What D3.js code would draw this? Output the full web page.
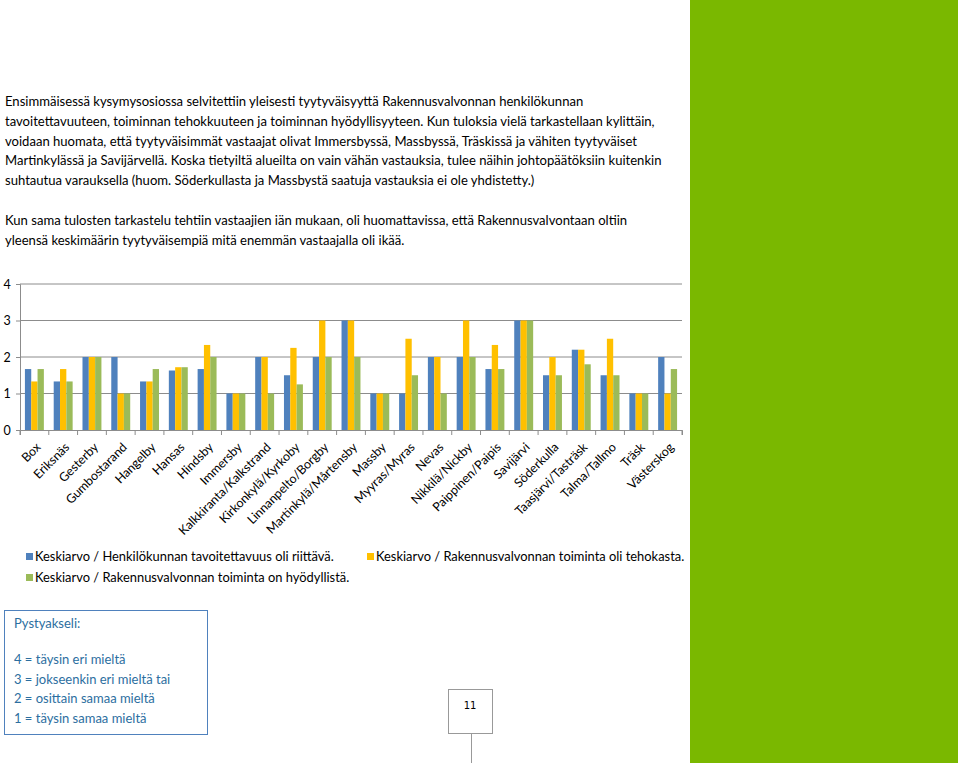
<!DOCTYPE html>
<html>
<head>
<meta charset="utf-8">
<script src="https://cdn.jsdelivr.net/npm/d3@7/dist/d3.min.js"></script>
<style>
	body { margin: 0; background: #fff; }
	svg text { font-family: Lato, "DejaVu Sans Condensed", sans-serif; }
</style>
</head>
<body>
<div id="page"></div>
<script>
// data
const categories = ['Box', 'Eriksnäs', 'Gesterby', 'Gumbostarand', 'Hangelby', 'Hansas', 'Hindsby',
	'Immersby', 'Kalkkiranta/Kalkstrand', 'Kirkonkylä/Kyrkoby', 'Linnanpelto/Borgby',
	'Martinkylä/Mårtensby', 'Massby', 'Myyras/Myras', 'Nevas', 'Nikkilä/Nickby',
	'Paippinen/Paipis', 'Savijärvi', 'Söderkulla', 'Taasjärvi/Tasträsk', 'Talma/Tallmo',
	'Träsk', 'Västerskog']
const tavoitettavuus = [1.67, 1.33, 2, 2, 1.33, 1.63, 1.67, 1, 2, 1.5, 2, 3, 1, 1, 2, 2, 1.67, 3, 1.5, 2.2, 1.5, 1, 2]
const tehokas = [1.33, 1.67, 2, 1, 1.33, 1.72, 2.33, 1, 2, 2.25, 3, 3, 1, 2.5, 2, 3, 2.33, 3, 2, 2.2, 2.5, 1, 1]
const hyodyllinen = [1.67, 1.33, 2, 1, 1.67, 1.72, 2, 1, 1, 1.25, 2, 2, 1, 1.5, 1, 2, 1.67, 3, 1.5, 1.8, 1.5, 1, 1.67]
const seriesNames = [
	'Keskiarvo  / Henkilökunnan tavoitettavuus oli riittävä.',
	'Keskiarvo  / Rakennusvalvonnan toiminta oli tehokasta.',
	'Keskiarvo  / Rakennusvalvonnan toiminta on hyödyllistä.'
]
const yTicks = [0, 1, 2, 3, 4]
const paragraph1 = [
	'Ensimmäisessä kysymysosiossa selvitettiin yleisesti tyytyväisyyttä Rakennusvalvonnan henkilökunnan',
	'tavoitettavuuteen, toiminnan tehokkuuteen ja toiminnan hyödyllisyyteen. Kun tuloksia vielä tarkastellaan kylittäin,',
	'voidaan huomata, että tyytyväisimmät vastaajat olivat Immersbyssä, Massbyssä, Träskissä ja vähiten tyytyväiset',
	'Martinkylässä ja Savijärvellä. Koska tietyiltä alueilta on vain vähän vastauksia, tulee näihin johtopäätöksiin kuitenkin',
	'suhtautua varauksella (huom. Söderkullasta ja Massbystä saatuja vastauksia ei ole yhdistetty.)'
]
const paragraph2 = [
	'Kun sama tulosten tarkastelu tehtiin vastaajien iän mukaan, oli huomattavissa, että Rakennusvalvontaan oltiin',
	'yleensä keskimäärin tyytyväisempiä mitä enemmän vastaajalla oli ikää.'
]
const boxLines = ['4 = täysin eri mieltä', '3 = jokseenkin eri mieltä tai', '2 = osittain samaa mieltä', '1 = täysin samaa mieltä']

const colors = ['#4f81bd', '#ffc000', '#9bbb59']
const series = [tavoitettavuus, tehokas, hyodyllinen]
const font = 'Lato, "DejaVu Sans Condensed", sans-serif'

const svg = d3.select('#page').append('svg')
	.attr('width', 960)
	.attr('height', 763)

// green side panel
svg.append('rect')
	.attr('x', 690).attr('y', 0)
	.attr('width', 268).attr('height', 763)
	.attr('fill', '#7ab800')

// text paragraphs (scaled a bit narrower, like the original)
const txt = svg.append('g')
	.attr('font-size', 14.3).attr('fill', '#000')
	.attr('transform', 'translate(5,0) scale(0.915,1)')
paragraph1.forEach((line, i) => {
	txt.append('text').attr('x', 0).attr('y', 106 + i * 19.8).text(line)
})
paragraph2.forEach((line, i) => {
	txt.append('text').attr('x', 0).attr('y', 225 + i * 19.8).text(line)
})

// chart
const plotLeft = 20, plotRight = 682, plotTop = 284, plotBottom = 430
const x = d3.scaleBand().domain(categories).range([plotLeft, plotRight]).paddingInner(0).paddingOuter(0)
const y = d3.scaleLinear().domain([0, 4]).range([plotBottom, plotTop])
const inner = d3.scaleBand().domain([0, 1, 2]).range([0, x.bandwidth()]).paddingOuter(0.78).paddingInner(0)

const chart = svg.append('g')

chart.selectAll('.grid')
	.data(yTicks.slice(1))
	.join('line')
	.attr('x1', plotLeft).attr('x2', plotRight)
	.attr('y1', d => y(d)).attr('y2', d => y(d))
	.attr('stroke', '#8c8c8c')
	.attr('stroke-width', 1)

series.forEach((vals, s) => {
	chart.append('g').selectAll('rect')
		.data(vals)
		.join('rect')
		.attr('x', (d, i) => x(categories[i]) + inner(s))
		.attr('y', d => y(d))
		.attr('width', inner.bandwidth())
		.attr('height', d => plotBottom - y(d))
		.attr('fill', colors[s])
})

// y axis
const yAxis = chart.append('g')
	.attr('transform', `translate(${plotLeft},0)`)
	.call(d3.axisLeft(y).tickValues(yTicks).tickSize(4).tickFormat(d3.format('d')))
yAxis.select('.domain').attr('stroke', '#8c8c8c')
yAxis.selectAll('.tick line').attr('stroke', '#8c8c8c')
yAxis.selectAll('.tick text')
	.attr('x', -13).attr('text-anchor', 'middle')
	.attr('font-size', 12.5).attr('fill', '#000')
	.style('font-family', font)

// x axis
const xAxis = chart.append('g')
	.attr('transform', `translate(0,${plotBottom})`)
	.call(d3.axisBottom(x).tickSize(5).tickSizeOuter(5))
xAxis.select('.domain').attr('stroke', '#8c8c8c')
xAxis.selectAll('.tick line')
	.attr('stroke', '#8c8c8c')
	.attr('transform', `translate(${-x.bandwidth() / 2},0)`)
xAxis.append('line')
	.attr('x1', plotRight).attr('x2', plotRight).attr('y1', 0).attr('y2', 5)
	.attr('stroke', '#8c8c8c')
xAxis.selectAll('.tick text')
	.attr('font-size', 12.4).attr('fill', '#000')
	.style('font-family', font)
	.attr('text-anchor', 'end')
	.attr('dy', null)
	.attr('y', 0)
	.attr('transform', 'translate(7,18) rotate(-45)')

// legend
const legendPos = [[26, 561], [367, 561], [26, 582]]
const legend = svg.append('g').attr('font-size', 12.9)
seriesNames.forEach((name, i) => {
	legend.append('rect')
		.attr('x', legendPos[i][0]).attr('y', legendPos[i][1] - 8)
		.attr('width', 7).attr('height', 7)
		.attr('fill', colors[i])
	legend.append('text')
		.attr('x', legendPos[i][0] + 9).attr('y', legendPos[i][1])
		.attr('fill', '#000')
		.text(name)
})

// explanation box
const box = svg.append('g')
box.append('rect')
	.attr('x', 4.5).attr('y', 610.5)
	.attr('width', 203).attr('height', 124)
	.attr('fill', '#fff')
	.attr('stroke', '#4f81bd')
	.attr('stroke-width', 1)
box.append('text')
	.attr('x', 14).attr('y', 628)
	.attr('font-size', 13).attr('fill', '#2c6ea0')
	.text('Pystyakseli:')
boxLines.forEach((line, i) => {
	box.append('text')
		.attr('x', 14).attr('y', 664 + i * 19.7)
		.attr('font-size', 13).attr('fill', '#2c6ea0')
		.text(line)
})

// page number
svg.append('rect')
	.attr('x', 448.5).attr('y', 689.5)
	.attr('width', 44).attr('height', 44)
	.attr('fill', '#fff')
	.attr('stroke', '#999')
svg.append('text')
	.attr('x', 470).attr('y', 709)
	.attr('text-anchor', 'middle')
	.attr('font-size', 10)
	.style('font-family', '"DejaVu Sans", sans-serif')
	.text('11')
svg.append('line')
	.attr('x1', 471.5).attr('x2', 471.5)
	.attr('y1', 734).attr('y2', 763)
	.attr('stroke', '#999')
</script>
</body>
</html>
